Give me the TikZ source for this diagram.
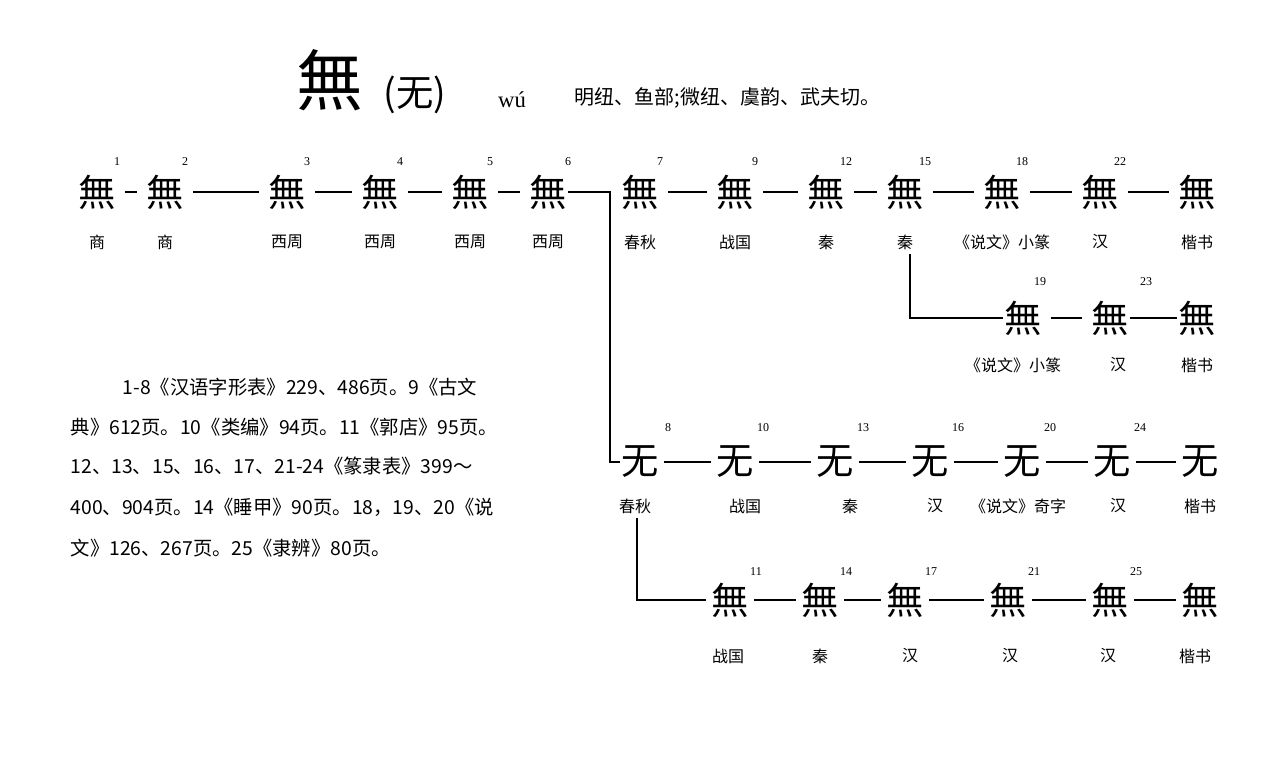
\documentclass[tikz,border=0pt]{standalone}
\usepackage{fontspec}
\setmainfont{Liberation Serif}
\newfontfamily\cjk{Noto Sans CJK SC}
\begin{document}
\begin{tikzpicture}[x=0.75pt,y=-0.75pt,
 g/.style={font=\cjk\fontsize{28}{28}\selectfont,inner sep=1pt},
 lb/.style={font=\cjk\fontsize{12}{12}\selectfont},
 nm/.style={font=\fontsize{9}{9}\selectfont},
 ln/.style={line width=0.8pt},
 gp/.style={ln,shorten >=6pt,shorten <=6pt}]
\useasboundingbox (0,0) rectangle (1280,763);
\node[font=\cjk\fontsize{50}{50}\selectfont] (t1) at (330,80) {無};
\node[font=\cjk\fontsize{28}{28}\selectfont] (t2) at (415,95) {(无)};
\node[font=\fontsize{17}{17}\selectfont] (t3) at (512,100) {wú};
\node[font=\cjk\fontsize{15}{15}\selectfont,anchor=west] (t4) at (570,98) {明纽、鱼部;微纽、虞韵、武夫切。};
% row 1
\foreach \i/\x/\n/\l in {a1/97/1/商,a2/165/2/商,a3/287/3/西周,a4/380/4/西周,a5/470/5/西周,a6/548/6/西周,a7/640/7/春秋,a8/735/9/战国,a9/826/12/秦,a10/905/15/秦,a11/1002/18/《说文》小篆,a12/1100/22/汉}{
 \node[g] (\i) at (\x,192) {無};
 \node[nm] (\i n) at (\x+20,162) {\n};
 \node[lb] (\i l) at (\x,242) {\l};}
\node[g] (a13) at (1197,192) {無};\node[lb] (a13l) at (1197,242) {楷书};
\foreach \a/\b in {a1/a2,a2/a3,a3/a4,a4/a5,a5/a6,a7/a8,a8/a9,a9/a10,a10/a11,a11/a12,a12/a13}\draw[gp] (\a) -- (\b);
% row 2
\node[g] (b1) at (1023,318) {無};\node[nm] (b1n) at (1040,282) {19};\node[lb] (b1l) at (1013,365) {《说文》小篆};
\node[g] (b2) at (1110,318) {無};\node[nm] (b2n) at (1146,282) {23};\node[lb] (b2l) at (1118,365) {汉};
\node[g] (b3) at (1197,318) {無};\node[lb] (b3l) at (1197,365) {楷书};
\draw[gp] (b1)--(b2); \draw[ln] (b2)--(b3);
\coordinate (c1) at (910,318);
\draw[ln] (a10l.south -| c1) -- (c1) -- (b1);
% row 3
\foreach \i/\x/\n/\l in {c3/640/8/春秋,c4/735/10/战国,c5/835/13/秦,c6/930/16/汉,c7/1022/20/{},c8/1112/24/汉}{
 \node[g] (\i) at (\x,462) {无};
 \node[nm] (\i n) at (\x+28,428) {\n};}
\node[g] (c9) at (1200,462) {无};
\node[lb] (c3l) at (635,506) {春秋};\node[lb] at (745,506) {战国};\node[lb] at (850,506) {秦};
\node[lb] at (935,506) {汉};\node[lb] at (1018,506) {《说文》奇字};\node[lb] at (1118,506) {汉};\node[lb] at (1200,506) {楷书};
\foreach \a/\b in {c3/c4,c4/c5,c5/c6,c6/c7,c7/c8,c8/c9}\draw[ln,shorten >=3pt,shorten <=3pt] (\a) -- (\b);
\coordinate (v1) at (610,192);
\draw[ln] (a6) -- (v1) -- (610,462) -- (c3);
% row 4
\foreach \i/\x/\n in {d1/730/11,d2/820/14,d3/905/17,d4/1008/21,d5/1110/25}{
 \node[g] (\i) at (\x,600) {無};
 \node[nm] (\i n) at (\x+26,572) {\n};}
\node[g] (d6) at (1200,600) {無};
\foreach \i/\x/\l in {e1/728/战国,e2/820/秦,e3/910/汉,e4/1010/汉,e5/1108/汉,e6/1195/楷书}\node[lb] (\i) at (\x,656) {\l};
\foreach \a/\b in {d1/d2,d2/d3,d3/d4,d4/d5,d5/d6}\draw[ln,shorten >=3pt,shorten <=3pt] (\a) -- (\b);
\coordinate (v2) at (637,600);
\draw[ln] (c3l.south -| v2) -- (v2) -- ([xshift=-3pt]d1.west);
% left text
\begin{scope}[every node/.style={font=\cjk\fontsize{14.5}{14.5}\selectfont,anchor=west}]
\node (p1) at (118,387) {1-8《汉语字形表》229、486页。9《古文};
\node (p2) at (66,427) {典》612页。10《类编》94页。11《郭店》95页。};
\node (p3) at (66,466) {12、13、15、16、17、21-24《篆隶表》399～};
\node (p4) at (66,507) {400、904页。14《睡甲》90页。18，19、20《说};
\node (p5) at (66,548) {文》126、267页。25《隶辨》80页。};
\end{scope}
\end{tikzpicture}
\end{document}
